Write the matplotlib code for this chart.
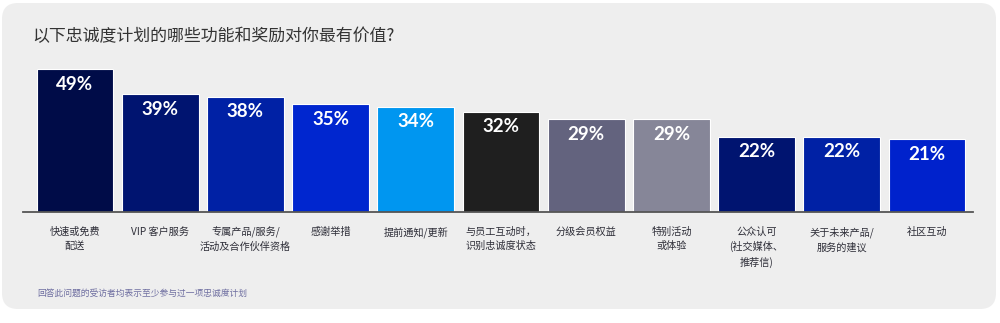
import matplotlib
matplotlib.use("Agg")
import matplotlib.pyplot as plt
from matplotlib.patches import FancyBboxPatch
import numpy as np

categories = [
    "快速或免费\n配送",
    "VIP 客户服务",
    "专属产品/服务/\n活动及合作伙伴资格",
    "感谢举措",
    "提前通知/更新",
    "与员工互动时，\n识别忠诚度状态",
    "分级会员权益",
    "特别活动\n或体验",
    "公众认可\n(社交媒体、\n推荐信)",
    "关于未来产品/\n服务的建议",
    "社区互动",
]
values = [49, 39, 38, 35, 34, 32, 29, 29, 22, 22, 21]
bar_colors = [
    "#000C48", "#001470", "#0021A5", "#0026CF", "#0096F0", "#1F1F1F",
    "#63637E", "#868698", "#001470", "#0021A5", "#0022CC",
]
title = "以下忠诚度计划的哪些功能和奖励对你最有价值?"
footnote = "回答此问题的受访者均表示至少参与过一项忠诚度计划"

CJK = ["Noto Sans CJK SC", "DejaVu Sans"]
W, H = 1000, 323

fig = plt.figure(figsize=(W / 100, H / 100), dpi=100, facecolor="white")

# rounded light-grey card behind everything (display pixel coordinates)
card = FancyBboxPatch((2, 14), 994, 306, boxstyle="round,pad=0,rounding_size=16",
                      transform=None, facecolor="#EEEEEE", edgecolor="none", zorder=-5)
fig.patches.append(card)

base = -8.2  # value axis starts below zero so the bars keep a stub
ax = fig.add_axes([23 / W, 111 / H, 950 / W, 152 / H])
ax.set_facecolor("none")
x = np.arange(len(values))
vals = np.array(values, dtype=float)
ax.bar(x, vals - base, bottom=base, width=0.9, color=bar_colors,
       edgecolor="white", linewidth=0.8, zorder=2)
ax.set_xlim(-0.61, 10.54)
ax.set_ylim(base, 52.6)

for s in ["top", "right", "left"]:
    ax.spines[s].set_visible(False)
ax.spines["bottom"].set_color("#555555")
ax.spines["bottom"].set_linewidth(1.3)
ax.spines["bottom"].set_zorder(3)
ax.set_xticks([])
ax.set_yticks([])

for xi, v in zip(x, values):
    ax.annotate(f"{v}%", (xi, v), xytext=(0, -5), textcoords="offset points",
                ha="center", va="top", color="white", fontsize=13.5,
                fontweight="bold", family=["Lato", "DejaVu Sans"], zorder=4)

for xi, lab in zip(x, categories):
    ax.annotate(lab, (xi, base), xytext=(0, -10.5), textcoords="offset points",
                ha="center", va="top", color="#2E2E38", fontsize=7.3,
                family=CJK, linespacing=1.5, annotation_clip=False)

fig.text(32 / W, 1 - 36 / H, title, ha="left", va="center", fontsize=12.2,
         color="#333333", family=CJK)
fig.text(37 / W, 1 - 293 / H, footnote, ha="left", va="center", fontsize=6.3,
         color="#6E6EA0", family=CJK)

fig.savefig("out.png", dpi=100, facecolor="white")
